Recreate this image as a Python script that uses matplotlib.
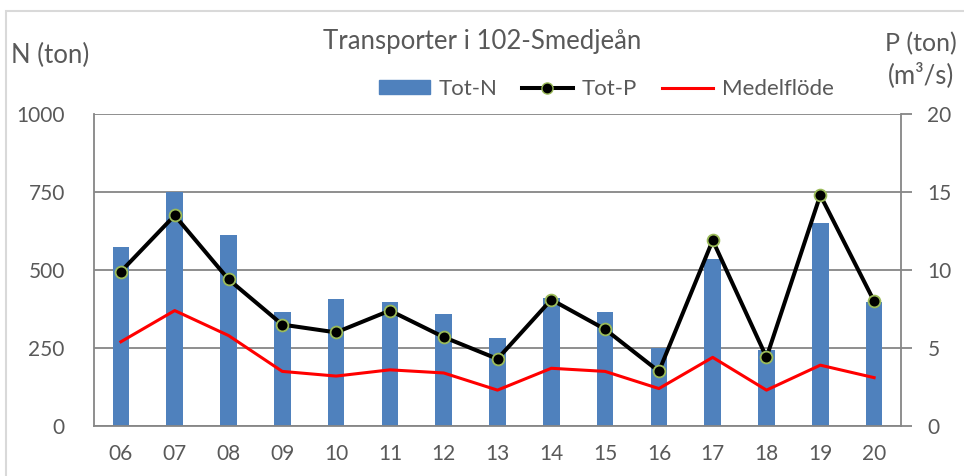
import matplotlib
matplotlib.use('Agg')
import matplotlib.pyplot as plt
from matplotlib.lines import Line2D
from matplotlib.patches import Patch, Rectangle

plt.rcParams['font.family'] = ['Lato', 'DejaVu Sans']

# data
ar = ['06', '07', '08', '09', '10', '11', '12', '13', '14', '15', '16', '17', '18', '19', '20']
tot_n = [575, 751, 611, 365, 406, 396, 360, 283, 411, 365, 249, 534, 244, 652, 397]
tot_p = [9.9, 13.5, 9.4, 6.5, 6.0, 7.4, 5.7, 4.3, 8.1, 6.2, 3.5, 11.9, 4.4, 14.8, 8.0]
medelflode = [5.4, 7.4, 5.8, 3.5, 3.2, 3.6, 3.4, 2.3, 3.7, 3.5, 2.4, 4.4, 2.3, 3.9, 3.1]

gra = '#595959'
linjegra = '#868686'
x = list(range(len(ar)))

fig = plt.figure(figsize=(9.64, 4.76), dpi=100)
# ram runt diagrammet
fig.patches.append(Rectangle((6/964, -0.1), 1.2, 1.1 - 11/476, transform=fig.transFigure,
                             fill=False, edgecolor='#d9d9d9', linewidth=1.5))

ax = fig.add_axes([94/964, 50/476, 807/964, 312/476])
ax.bar(x, tot_n, width=0.31, color='#4F81BD', zorder=2)
ax.set_xlim(-0.5, len(ar) - 0.5)
ax.set_ylim(0, 1000)
ax.set_yticks([0, 250, 500, 750, 1000])
ax.set_xticks(x)
ax.set_xticklabels(ar)
ax.grid(axis='y', color=linjegra, linewidth=1.3)
ax.set_axisbelow(True)
ax.tick_params(axis='both', length=0, labelsize=15, colors=gra)
ax.tick_params(axis='y', pad=21)
ax.tick_params(axis='x', pad=13)
for s in ['left', 'bottom']:
    ax.spines[s].set_color(linjegra)
    ax.spines[s].set_linewidth(1.3)
ax.spines['top'].set_visible(False)
ax.spines['right'].set_visible(False)

ax2 = ax.twinx()
ax2.plot(x, medelflode, color='#FF0000', linewidth=2.2, zorder=3)
ax2.plot(x, tot_p, color='black', linewidth=2.9, marker='o', markersize=8.5,
         markerfacecolor='black', markeredgecolor='#9BBB59', markeredgewidth=1.3, zorder=4)
ax2.set_ylim(0, 20)
ax2.set_yticks([0, 5, 10, 15, 20])
ax2.tick_params(axis='y', length=8, width=1.3, color=linjegra, labelsize=15, labelcolor=gra, pad=11)
ax2.spines['right'].set_color(linjegra)
ax2.spines['right'].set_linewidth(1.3)
for s in ['left', 'bottom', 'top']:
    ax2.spines[s].set_visible(False)

fig.text(482/964, 1 - 41/476, 'Transporter i 102-Smedjeån', ha='center', va='center',
         fontsize=18.5, color=gra)
fig.text(50/964, 1 - 55/476, 'N (ton)', ha='center', va='center', fontsize=18.5, color=gra)
fig.text(921/964, 1 - 44/476, 'P (ton)', ha='center', va='center', fontsize=18, color=gra)
fig.text(921/964, 1 - 75/476, '(m³/s)', ha='center', va='center', fontsize=18.5, color=gra)

handles = [Patch(color='#4F81BD'),
           Line2D([], [], color='black', linewidth=2.9, marker='o', markersize=8,
                  markerfacecolor='black', markeredgecolor='#9BBB59'),
           Line2D([], [], color='#FF0000', linewidth=2.2)]
fig.legend(handles, ['Tot-N', 'Tot-P', 'Medelflöde'], loc='center', ncol=3,
           bbox_to_anchor=(606/964, 1 - 89/476), frameon=False, fontsize=16,
           handlelength=2.3, handleheight=0.55, columnspacing=1.1, handletextpad=0.4,
           labelcolor=gra)

fig.savefig('out.png', dpi=100)
